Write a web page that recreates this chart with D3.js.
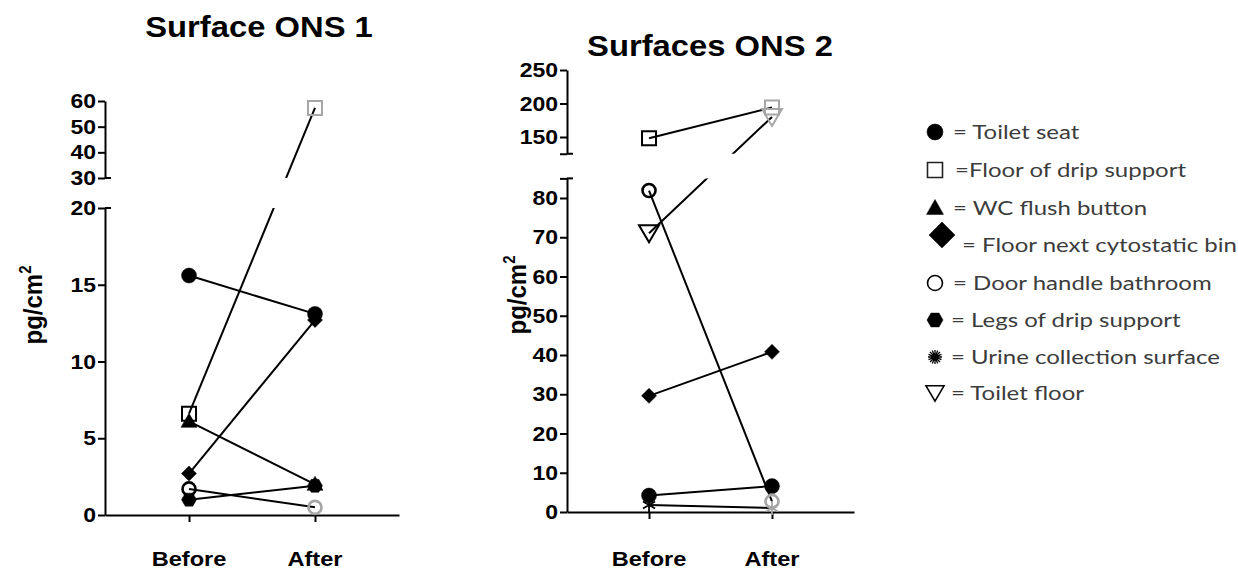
<!DOCTYPE html>
<html><head><meta charset="utf-8">
<script src="https://cdn.jsdelivr.net/npm/d3@7"></script>
<style>body{margin:0;background:#fff} svg{display:block}</style>
</head><body>
<svg id="c" width="1238" height="570"></svg>
<script>
// ---------------- DATA ----------------
const categories = ["Before", "After"];
const seriesNames = ["Toilet seat", "Floor of drip support", "WC flush button", "Floor next cytostatic bin",
  "Door handle bathroom", "Legs of drip support", "Urine collection surface", "Toilet floor"];
const legendLabels = ["= Toilet seat", "=Floor of drip support", "= WC flush button", "= Floor next cytostatic bin",
  "= Door handle bathroom", "= Legs of drip support", "= Urine collection surface", "= Toilet floor"];

const ons1Before = [15.6, 6.6, 6.1, 2.7, 1.7, 1.0, null, null];
const ons1After  = [13.1, 57.3, 2.0, 12.7, 0.5, 1.9, null, null];
const ons2Before = [4.2, 148, null, 29.6, 81.9, null, 1.8, 71];
const ons2After  = [6.6, 194, null, 40.8, 2.7, null, 1.0, 180];

// series whose "After" point is printed in grey
const ons1AfterGrey = ["Floor of drip support", "Door handle bathroom"];
const ons2AfterGrey = ["Floor of drip support", "Door handle bathroom", "Urine collection surface", "Toilet floor"];

const ons1LowerDomain = [0, 20], ons1UpperDomain = [30, 60];
const ons1LowerTicks = [0, 5, 10, 15, 20], ons1UpperTicks = [30, 40, 50, 60];
const ons2LowerDomain = [0, 85], ons2UpperDomain = [125, 250];
const ons2LowerTicks = [0, 10, 20, 30, 40, 50, 60, 70, 80], ons2UpperTicks = [150, 200, 250];

const titles = ["Surface ONS 1", "Surfaces ONS 2"];
const yLabel = "pg/cm";

// ---------------- STYLE ----------------
const FONT = "'Liberation Sans', Arial, Helvetica, sans-serif";
const SX = 1.15;
const GREY = "#a6a6a6";
const markerShapes = ["circle", "square", "triangle", "diamond", "circleOpen", "hexagon", "asterisk", "triangleDown"];
const chartSize = {circle: 7.5, square: 7, triangle: 8, diamond: 7.5, circleOpen: 6.5, hexagon: 7.5, asterisk: 7, triangleDown: 10};
const legendSize = {circle: 8, square: 7.5, triangle: 8.5, diamond: 13, circleOpen: 7.5, hexagon: 8, asterisk: 7, triangleDown: 9};

function shapePath(shape, s, rays) {
  switch (shape) {
    case "circle": case "circleOpen":
      return `M${-s},0A${s},${s} 0 1,0 ${s},0A${s},${s} 0 1,0 ${-s},0Z`;
    case "square": return `M${-s},${-s}H${s}V${s}H${-s}Z`;
    case "triangle": return `M0,${-s}L${s},${s * 0.75}L${-s},${s * 0.75}Z`;
    case "triangleDown": return `M0,${s * 0.9}L${s},${-s * 0.8}L${-s},${-s * 0.8}Z`;
    case "diamond": return `M0,${-s}L${s},0L0,${s}L${-s},0Z`;
    case "hexagon": {
      let p = "";
      for (let i = 0; i < 6; i++) {
        const a = Math.PI / 3 * i;
        p += (i ? "L" : "M") + (s * Math.cos(a)).toFixed(2) + "," + (s * Math.sin(a)).toFixed(2);
      }
      return p + "Z";
    }
    case "asterisk": {
      let p = "";
      const n = rays || 4;
      for (let i = 0; i < n; i++) {
        const a = Math.PI / n * i + Math.PI / 2, c = Math.cos(a) * s, d = Math.sin(a) * s;
        p += `M${-c.toFixed(2)},${-d.toFixed(2)}L${c.toFixed(2)},${d.toFixed(2)}`;
      }
      return p;
    }
  }
}
function styleMarker(sel, shape, color, legend) {
  if (shape === "square" || shape === "circleOpen" || shape === "triangleDown") {
    sel.attr("fill", "none").attr("stroke", color).attr("stroke-width", legend ? 1.6 : (shape === "circleOpen" ? 2.6 : 2));
  } else if (shape === "asterisk") {
    sel.attr("fill", "none").attr("stroke", color).attr("stroke-width", legend ? 1.3 : 1.8);
  } else {
    sel.attr("fill", color).attr("stroke", color).attr("stroke-width", 0.5);
  }
}

const svg = d3.select("#c");

function stretchedText(g, x, y, str, size, anchor, sx) {
  return g.append("text")
    .attr("transform", `translate(${x},${y}) scale(${sx},1)`)
    .attr("text-anchor", anchor)
    .attr("font-family", FONT).attr("font-weight", "bold").attr("font-size", size)
    .attr("fill", "#000").text(str);
}

function drawChart(cfg, idx) {
  const g = svg.append("g");
  const x = d3.scalePoint().domain(categories).range(cfg.xRange).padding(0.667);
  const yLow = d3.scaleLinear().domain(cfg.lowDomain).range([cfg.yBase, cfg.lowTop]);
  const yUp = d3.scaleLinear().domain(cfg.upDomain).range([cfg.upBottom, cfg.upTop]);
  const y = v => v <= cfg.lowDomain[1] ? yLow(v) : yUp(v);
  const ax = cfg.xRange[0];

  // y axes (two segments)
  const lowAxis = g.append("g").attr("transform", `translate(${ax},0)`)
    .call(d3.axisLeft(yLow).tickValues(Array.from(new Set([...cfg.lowTicks, cfg.lowDomain[1]]))).tickSize(7).tickSizeOuter(0).tickFormat(""));
  const upAxis = g.append("g").attr("transform", `translate(${ax},0)`)
    .call(d3.axisLeft(yUp).tickValues(Array.from(new Set([cfg.upDomain[0], ...cfg.upTicks]))).tickSize(7).tickSizeOuter(0).tickFormat(""));
  [lowAxis, upAxis].forEach(a => a.selectAll("path,line").attr("stroke", "#000").attr("stroke-width", 2));
  // break caps extending to the right
  [yLow(cfg.lowDomain[1]), yUp(cfg.upDomain[0])].forEach(py => {
    g.append("line").attr("x1", ax).attr("x2", ax + 6).attr("y1", py).attr("y2", py)
      .attr("stroke", "#000").attr("stroke-width", 2);
  });
  // tick labels
  cfg.lowTicks.forEach(v => stretchedText(g, ax - 9, yLow(v) + 7, String(v), 20, "end", SX));
  cfg.upTicks.forEach(v => stretchedText(g, ax - 9, yUp(v) + 7, String(v), 20, "end", SX));

  // x axis
  const xAxis = g.append("g").attr("transform", `translate(0,${cfg.yBase})`)
    .call(d3.axisBottom(x).tickSize(7).tickSizeOuter(0).tickFormat(""));
  xAxis.selectAll("path,line").attr("stroke", "#000").attr("stroke-width", 2);
  categories.forEach(c => stretchedText(g, x(c), 566, c, 20, "middle", 1.18));

  // title
  stretchedText(g, cfg.titleX, cfg.titleY, titles[idx], 29, "middle", 1.13);

  // y label
  const yl = g.append("text")
    .attr("transform", `translate(${cfg.ylabX},${cfg.ylabY}) rotate(-90) scale(1,1.1)`)
    .attr("text-anchor", "middle")
    .attr("font-family", FONT).attr("font-weight", "bold").attr("font-size", 24).attr("fill", "#000");
  yl.append("tspan").text(yLabel);
  yl.append("tspan").attr("font-size", 15).attr("dy", -10).text("2");

  // clip to hide the axis break
  const cid = "clip" + idx;
  const cp = svg.append("defs").append("clipPath").attr("id", cid);
  cp.append("rect").attr("x", 0).attr("y", cfg.lowTop).attr("width", 1238).attr("height", 600);
  cp.append("rect").attr("x", 0).attr("y", 0).attr("width", 1238).attr("height", cfg.upBottom);

  const lines = g.append("g").attr("clip-path", `url(#${cid})`);
  seriesNames.forEach((name, i) => {
    const b = cfg.before[i], a = cfg.after[i];
    if (b == null || a == null) return;
    lines.append("path")
      .attr("d", d3.line()([[x("Before"), y(b)], [x("After"), y(a)]]))
      .attr("stroke", "#000").attr("stroke-width", 2).attr("fill", "none");
  });
  const marks = g.append("g");
  seriesNames.forEach((name, i) => {
    const shape = markerShapes[i];
    [["Before", cfg.before[i], "#000"], ["After", cfg.after[i], cfg.grey.includes(name) ? GREY : "#000"]].forEach(([c, v, col]) => {
      if (v == null) return;
      const m = marks.append("path")
        .attr("transform", `translate(${x(c)},${y(v)})`)
        .attr("d", shapePath(shape, chartSize[shape], 3));
      styleMarker(m, shape, col, false);
    });
  });
}

drawChart({
  xRange: [105, 399], yBase: 515, lowTop: 208, upBottom: 178, upTop: 101,
  lowDomain: ons1LowerDomain, upDomain: ons1UpperDomain, lowTicks: ons1LowerTicks, upTicks: ons1UpperTicks,
  before: ons1Before, after: ons1After, grey: ons1AfterGrey,
  titleX: 259, titleY: 37, ylabX: 42, ylabY: 305
}, 0);

drawChart({
  xRange: [567, 854], yBase: 512, lowTop: 512 - 85 * 3.925, upBottom: 153.75, upTop: 70,
  lowDomain: ons2LowerDomain, upDomain: ons2UpperDomain, lowTicks: ons2LowerTicks, upTicks: ons2UpperTicks,
  before: ons2Before, after: ons2After, grey: ons2AfterGrey,
  titleX: 710, titleY: 56, ylabX: 526, ylabY: 295
}, 1);

// legend
const legendRowY = [132, 170, 208, 245, 283, 320, 357, 393];
const legendTextX = [953, 955, 953, 962, 953, 951, 951, 951];
const lg = svg.append("g");
seriesNames.forEach((name, i) => {
  const shape = markerShapes[i];
  const mx = shape === "diamond" ? 942 : 935;
  const my = shape === "diamond" ? legendRowY[i] - 10 : legendRowY[i];
  const m = lg.append("path").attr("transform", `translate(${mx},${my})`).attr("d", shapePath(shape, legendSize[shape], 8));
  styleMarker(m, shape, shape === "square" ? "#222" : "#000", true);
  lg.append("text")
    .attr("transform", `translate(${legendTextX[i]},${legendRowY[i] + 7}) scale(1.2,1)`)
    .attr("font-family", "Lato, 'Open Sans', sans-serif").attr("font-size", 20)
    .attr("fill", "#3c3c3c")
    .text(legendLabels[i]);
});
</script>
</body></html>
